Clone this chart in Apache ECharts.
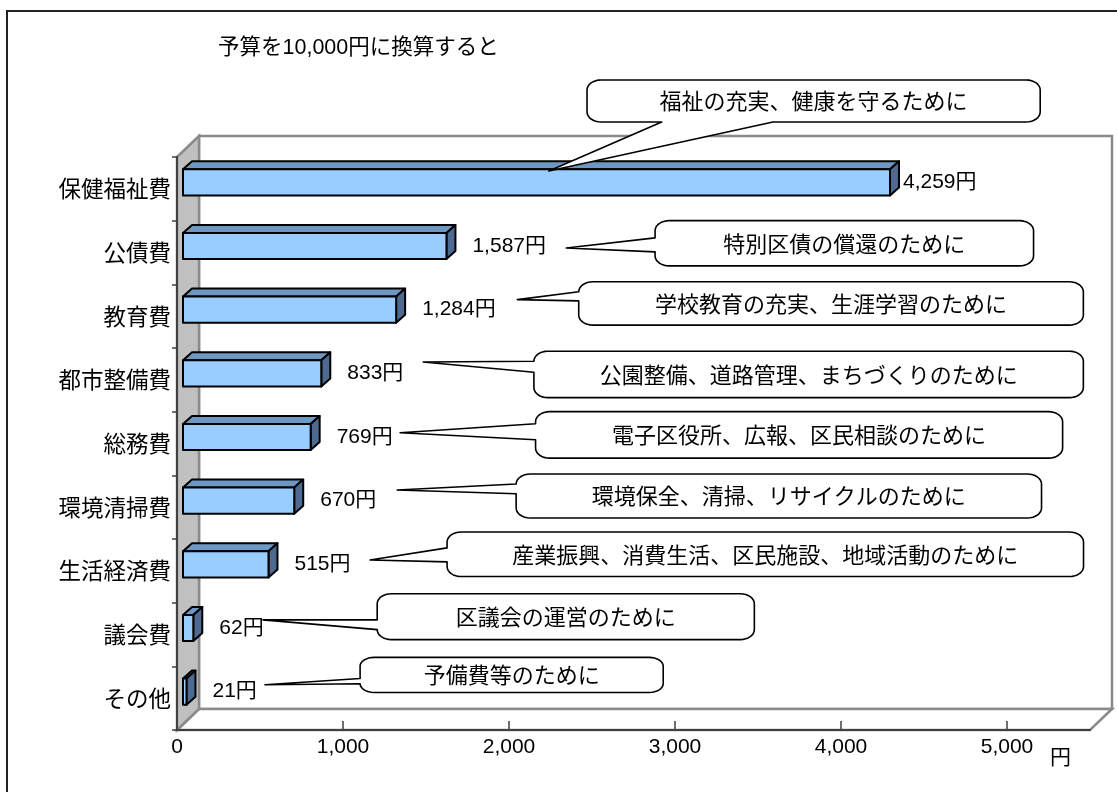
<!DOCTYPE html>
<html><head><meta charset="utf-8">
<script src="https://cdn.jsdelivr.net/npm/echarts@6/dist/echarts.min.js"></script>
<style>html,body{margin:0;padding:0;background:#fff;}#c{width:1117px;height:792px;}</style>
</head><body><div id="c"></div>
<script>
// ---- data ----
const titleText = '予算を10,000円に換算すると';
const unitText = '円';
const categories = ['保健福祉費','公債費','教育費','都市整備費','総務費','環境清掃費','生活経済費','議会費','その他'];
const values = [4259, 1587, 1284, 833, 769, 670, 515, 62, 21];
const xTickValues = [0, 1000, 2000, 3000, 4000, 5000];
const calloutTexts = [
  '福祉の充実、健康を守るために',
  '特別区債の償還のために',
  '学校教育の充実、生涯学習のために',
  '公園整備、道路管理、まちづくりのために',
  '電子区役所、広報、区民相談のために',
  '環境保全、清掃、リサイクルのために',
  '産業振興、消費生活、区民施設、地域活動のために',
  '区議会の運営のために',
  '予備費等のために'
];

// ---- annotation layout (value units on x, band offsets from own category on y) ----
const calloutLayout = [
  {l:2470, r:5200, t:-1.71, b:-1.05, side:'bottom', a:2920, z:3590, tip:[2240,-0.28]},
  {l:2880, r:5160, t:-0.50, b:0.21, side:'left', a:-0.23, z:-0.01, tip:[2345,-0.07]},
  {l:2420, r:5460, t:-0.54, b:0.14, side:'left', a:-0.46, z:-0.24, tip:[2050,-0.26]},
  {l:2150, r:5460, t:-0.45, b:0.28, side:'left', a:-0.34, z:-0.12, tip:[1483,-0.28]},
  {l:2160, r:5335, t:-0.50, b:0.23, side:'left', a:-0.31, z:-0.06, tip:[1344,-0.17]},
  {l:2043, r:5208, t:-0.52, b:0.17, side:'left', a:-0.46, z:-0.21, tip:[1326,-0.27]},
  {l:1627, r:5461, t:-0.61, b:0.09, side:'left', a:-0.36, z:-0.14, tip:[1163,-0.17]},
  {l:1206, r:3478, t:-0.64, b:0.08, side:'left', a:-0.23, z:-0.07, tip:[518,-0.23]},
  {l:1103, r:2929, t:-0.64, b:-0.09, side:'left', a:-0.31, z:-0.16, tip:[530,-0.21]}
];
const valueLabelGap = 17;
const valueLabelShift = {0: -13};

const FONT_LATIN = '"Liberation Sans", Arial, "Noto Sans CJK JP", sans-serif';
const FONT_CJK = '"Noto Sans CJK JP", "Liberation Sans", sans-serif';
const DEPTH = [22, -21];   // wall depth
const BAR_OFF = [6, -6.5]; // bar plane offset
const BAR_DEPTH = [9, -8];

const chart = echarts.init(document.getElementById('c'), null, {renderer:'canvas'});

function renderWalls(params, api) {
  const cs = params.coordSys;
  const x0 = cs.x, y0 = cs.y, x1 = cs.x + cs.width, y1 = cs.y + cs.height;
  const dx = DEPTH[0], dy = DEPTH[1];
  const grey = {stroke:'#8a8a8a', lineWidth:2.5, lineJoin:'miter'};
  return {type:'group', children:[
    {type:'rect', shape:{x:x0+dx, y:y0+dy, width:cs.width, height:cs.height}, style:{fill:'#fff', ...grey}},
    {type:'polygon', shape:{points:[[x0,y1],[x1,y1],[x1+dx,y1+dy],[x0+dx,y1+dy]]}, style:{fill:'#fff', ...grey}},
    {type:'polygon', shape:{points:[[x0,y0],[x0+dx,y0+dy],[x0+dx,y1+dy],[x0,y1]]}, style:{fill:'#c0c0c0', ...grey}}
  ]};
}

function renderBar(params, api) {
  const i = api.value(1), v = api.value(0);
  const band = api.size([0, 1])[1];
  const p0 = api.coord([0, i]), p1 = api.coord([v, i]);
  const h = band * 0.41, dx = BAR_DEPTH[0], dy = BAR_DEPTH[1];
  const x0 = p0[0] + BAR_OFF[0], x1 = p1[0] + BAR_OFF[0], yc = p0[1] + BAR_OFF[1];
  const y0 = yc - h / 2, y1 = yc + h / 2;
  const line = {stroke:'#000', lineWidth:2, lineJoin:'round'};
  const label = values[params.dataIndex].toLocaleString('en-US') + '円';
  const lx = x1 + dx + valueLabelGap + (valueLabelShift[params.dataIndex] || 0);
  return {type:'group', children:[
    {type:'polygon', shape:{points:[[x0,y0],[x1,y0],[x1+dx,y0+dy],[x0+dx,y0+dy]]}, style:{fill:'#6e98c3', ...line}},
    {type:'polygon', shape:{points:[[x1,y0],[x1+dx,y0+dy],[x1+dx,y1+dy],[x1,y1]]}, style:{fill:'#4e6a90', ...line}},
    {type:'rect', shape:{x:x0, y:y0, width:Math.max(0.5, x1-x0), height:h}, style:{fill:'#99ccff', ...line}},
    {type:'text', style:{text:label, x:lx, y:yc, align:'left', verticalAlign:'middle',
      fontSize:21, fontFamily:FONT_LATIN, fill:'#000'}}
  ]};
}

function arc(cx, cy, rx, ry, a0, a1) {
  const pts = [], n = 8;
  for (let j = 0; j <= n; j++) { const a = a0 + (a1 - a0) * j / n; pts.push([cx + rx*Math.cos(a), cy + ry*Math.sin(a)]); }
  return pts;
}

function renderCallout(params, api) {
  const k = params.dataIndex, L = calloutLayout[k];
  const band = api.size([0, 1])[1];
  const cy = api.coord([0, k])[1];
  const X = v => api.coord([v, k])[0];
  const Y = o => cy + o * band;
  const l = X(L.l), r = X(L.r), t = Y(L.t), b = Y(L.b);
  const tip = [X(L.tip[0]), Y(L.tip[1])];
  const rx = 14, ry = Math.min(10, (b - t) / 4);
  let pts = [];
  pts = pts.concat(arc(r-rx, t+ry, rx, ry, -Math.PI/2, 0));
  pts = pts.concat(arc(r-rx, b-ry, rx, ry, 0, Math.PI/2));
  if (L.side === 'bottom') {
    const xa = X(L.a), xb = X(L.z);
    pts.push([Math.max(xa,xb), b], tip, [Math.min(xa,xb), b]);
  }
  pts = pts.concat(arc(l+rx, b-ry, rx, ry, Math.PI/2, Math.PI));
  if (L.side === 'left') {
    const ya = Math.max(Math.min(Y(L.a), Y(L.z)), t + ry), yb = Math.min(Math.max(Y(L.a), Y(L.z)), b - ry);
    pts.push([l, yb], tip, [l, ya]);
  }
  pts = pts.concat(arc(l+rx, t+ry, rx, ry, Math.PI, 1.5*Math.PI));
  return {type:'group', children:[
    {type:'polygon', shape:{points:pts}, style:{fill:'#fff', stroke:'#000', lineWidth:1.6, lineJoin:'round'}},
    {type:'text', style:{text:calloutTexts[k], x:(l+r)/2, y:(t+b)/2, align:'center', verticalAlign:'middle',
      fontSize:22, fontFamily:FONT_CJK, fill:'#000'}}
  ]};
}

const barData = values.map((v, i) => [v, i]);

chart.setOption({
  animation: false,
  backgroundColor: '#fff',
  title: {text: titleText, left: 213, top: 32,
    textStyle: {fontSize: 21.5, fontWeight: 'normal', color: '#000', fontFamily: FONT_LATIN}},
  graphic: [
    {type:'rect', shape:{x:7, y:11, width:1140, height:800}, style:{fill:'none', stroke:'#222', lineWidth:2}, z:100},
    {type:'text', left:1050, top:746, style:{text:unitText, fontSize:21, fontFamily:FONT_CJK, fill:'#000'}}
  ],
  grid: {left: 177, right: 27, top: 157, bottom: 62, containLabel: false},
  xAxis: {
    type: 'value', min: 0, max: 5500, interval: 1000,
    axisLine: {show: true, lineStyle: {color: '#404040', width: 2}},
    axisTick: {show: true, inside: true, length: 9, customValues: xTickValues, lineStyle: {color: '#404040', width: 1.5}},
    axisLabel: {customValues: xTickValues, margin: 7, fontSize: 21, color: '#000', fontFamily: FONT_LATIN,
      formatter: v => Number(v).toLocaleString('en-US')},
    splitLine: {show: false}
  },
  yAxis: {
    type: 'category', data: categories, inverse: true,
    axisLine: {show: true, lineStyle: {color: '#404040', width: 2}},
    axisTick: {show: true, length: 5, lineStyle: {color: '#404040', width: 1.5}},
    axisLabel: {margin: 6, fontSize: 22.5, color: '#000', fontFamily: FONT_CJK},
    splitLine: {show: false}
  },
  series: [
    {type: 'custom', name: 'walls', z: -1, clip: false, silent: true, renderItem: renderWalls, data: [[0, 0]], encode: {x: 0, y: 1}},
    {type: 'custom', name: 'bars', z: 2, clip: false, renderItem: renderBar, data: barData, encode: {x: 0, y: 1}},
    {type: 'custom', name: 'callouts', z: 3, clip: false, silent: true, renderItem: renderCallout, data: barData, encode: {x: 0, y: 1}}
  ]
});
</script></body></html>
